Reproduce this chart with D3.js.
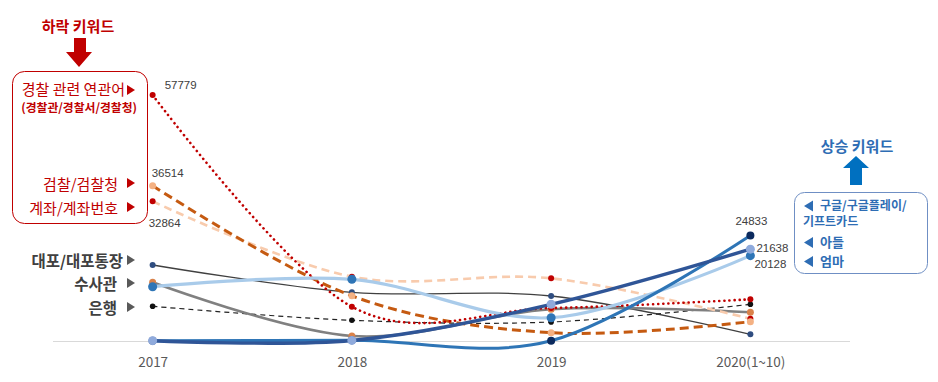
<!DOCTYPE html>
<html><head><meta charset="utf-8">
<script src="https://cdn.jsdelivr.net/npm/d3@7"></script>
<style>
html,body{margin:0;padding:0;background:#fff;}
svg{display:block;}
</style></head>
<body>
<script>
const years = ["2017","2018","2019","2020(1~10)"];
const police = [57779, 8157, 7850, 9890];
const prosecution = [36514, 10700, 2060, 4640];
const account = [32864, 15190, 14810, 5340];
const daepo = [17932, 11532, 10665, 1688];
const investigator = [13876, 1290, 7548, 6845];
const bank = [8250, 4969, 4571, 8720];
const mom = [12845, 14580, 5580, 20128];
const son = [190, 250, 8720, 21638];
const google = [150, 300, 190, 24833];

const W = 938, H = 382;
const svg = d3.select("body").append("svg").attr("width", W).attr("height", H);
const KR = "'Noto Sans CJK KR', 'Noto Sans', sans-serif";

const x = d3.scalePoint().domain(years).range([53, 850]).padding(0.5);
const y = d3.scaleLinear().domain([0, 60000]).range([341.5, 341.5 - 60000 * 246.5 / 57779]);

// axis
const axis = svg.append("g").attr("transform", "translate(0,341.5)")
  .call(d3.axisBottom(x).tickSize(0).tickPadding(16).tickSizeOuter(0));
axis.select(".domain").attr("stroke", "#D9D9D9").attr("stroke-width", 1)
  .attr("d", "M53,0H850");
axis.selectAll("text").attr("fill", "#595959").attr("font-family", KR).attr("font-size", 13.5);

const series = [
  {v: daepo, line: "#404040", w: 1.3, dash: null, mk: "#2F4D80", r: 3},
  {v: bank, line: "#222222", w: 1.2, dash: "5 4", mk: "#111111", r: 2.8},
  {v: investigator, line: "#808080", w: 2.6, dash: null, mk: "#D9824A", r: 3.5},
  {v: account, line: "#F8CBAD", w: 2.6, dash: "8 5", mk: "#C00000", r: 3},
  {v: prosecution, line: "#C55A11", w: 3, dash: "9 5", mk: "#F4B183", r: 3.5},
  {v: police, line: "#C00000", w: 2.6, dash: "0.1 5", cap: "round", mk: "#C00000", r: 3},
  {v: mom, line: "#A9CBEA", w: 3.2, dash: null, mk: "#2E75B6", r: 4.5},
  {v: google, line: "#2E75B6", w: 3, dash: null, mk: "#0B2A5E", r: 4},
  {v: son, line: "#2F5597", w: 3.4, dash: null, mk: "#8FAADC", r: 4.5}
];

const lineGen = d3.line().x((d, i) => x(years[i])).y(d => y(d)).curve(d3.curveCardinal.tension(0));

series.forEach(s => {
  const g = svg.append("g");
  g.append("path").attr("d", lineGen(s.v)).attr("fill", "none")
    .attr("stroke", s.line).attr("stroke-width", s.w)
    .attr("stroke-dasharray", s.dash)
    .attr("stroke-linecap", s.cap || "butt");
  g.selectAll("circle").data(s.v).join("circle")
    .attr("cx", (d, i) => x(years[i])).attr("cy", d => y(d))
    .attr("r", s.r).attr("fill", s.mk);
});

// data labels
const lab = (txt, xx, yy, anchor) => svg.append("text").text(txt)
  .attr("x", xx).attr("y", yy).attr("text-anchor", anchor || "start")
  .attr("dominant-baseline", "central")
  .attr("font-family", "'Liberation Sans', Arial, sans-serif").attr("font-size", 11.5).attr("fill", "#404040");
lab(police[0], x(years[0]) + 12, y(police[0]) - 10);
lab(prosecution[0], x(years[0]) - 1, y(prosecution[0]) - 13);
lab(account[0], x(years[0]) - 4, y(account[0]) + 22);
lab(google[3], x(years[3]) + 1, y(google[3]) - 15, "middle");
lab(son[3], x(years[3]) + 6, y(son[3]) - 1);
lab(mom[3], x(years[3]) + 4, y(mom[3]) + 8);

// triangles
const triR = (xr, yc, col) => svg.append("path")
  .attr("d", `M${xr - 8},${yc - 5}L${xr},${yc}L${xr - 8},${yc + 5}Z`).attr("fill", col);
const triL = (xl, yc, col) => svg.append("path")
  .attr("d", `M${xl + 9},${yc - 5.5}L${xl},${yc}L${xl + 9},${yc + 5.5}Z`).attr("fill", col);
const txt = (t, xx, yy, anchor, size, col, weight) => svg.append("text").text(t)
  .attr("x", xx).attr("y", yy).attr("text-anchor", anchor).attr("dominant-baseline", "central")
  .attr("font-family", KR).attr("font-size", size).attr("fill", col).attr("font-weight", weight || "normal");

// left: falling keywords
const RED = "#C00000";
txt("하락 키워드", 78, 25, "middle", 15, RED, "bold");
svg.append("path").attr("d", "M74,38H86V52H92L79,67L66,52H74Z").attr("fill", RED);
svg.append("rect").attr("x", 12.5).attr("y", 71.5).attr("width", 135).attr("height", 152)
  .attr("rx", 12).attr("fill", "none").attr("stroke", RED).attr("stroke-width", 1);
const policeLab = svg.append("text").attr("text-anchor", "end").attr("font-family", KR).attr("fill", RED);
policeLab.append("tspan").text("경찰 관련 연관어").attr("x", 125).attr("y", 95).attr("font-size", 15);
policeLab.append("tspan").text("(경찰관/경찰서/경찰청)").attr("x", 137).attr("y", 111.5)
  .attr("font-size", 11.8).attr("font-weight", "bold");
triR(135, 90, RED);
txt("검찰/검찰청", 118, 183, "end", 15, RED);
triR(135, 183, RED);
txt("계좌/계좌번호", 118, 207, "end", 15, RED);
triR(135, 207, RED);

// left gray labels
const GR = "#404040";
txt("대포/대포통장", 123, 260, "end", 15.5, GR, "bold");
triR(135, 260, "#595959");
txt("수사관", 117, 283, "end", 15.5, GR, "bold");
triR(135, 283, "#595959");
txt("은행", 117, 307, "end", 15.5, GR, "bold");
triR(135, 307, "#595959");

// right: rising keywords
const BL = "#2E6DB4";
txt("상승 키워드", 857, 145, "middle", 15, BL, "bold");
svg.append("path").attr("d", "M856,156L869,168H862V185H850V168H843Z").attr("fill", "#0070C0");
svg.append("rect").attr("x", 794.5).attr("y", 192.5).attr("width", 133).attr("height", 81)
  .attr("rx", 10).attr("fill", "none").attr("stroke", "#6F8FC4").attr("stroke-width", 1);
triL(804, 206, BL);
triL(804, 242.5, BL);
triL(804, 261.5, BL);
const rightLab = svg.append("text").attr("font-family", KR).attr("fill", BL).attr("font-weight", "bold");
rightLab.append("tspan").text("구글/구글플레이/").attr("x", 820).attr("y", 210.1).attr("font-size", 12);
rightLab.append("tspan").text("기프트카드").attr("x", 803).attr("y", 226.1).attr("font-size", 12);
rightLab.append("tspan").text("아들").attr("x", 820).attr("y", 246.9).attr("font-size", 13);
rightLab.append("tspan").text("엄마").attr("x", 820).attr("y", 265.9).attr("font-size", 13);
</script>
</body></html>
